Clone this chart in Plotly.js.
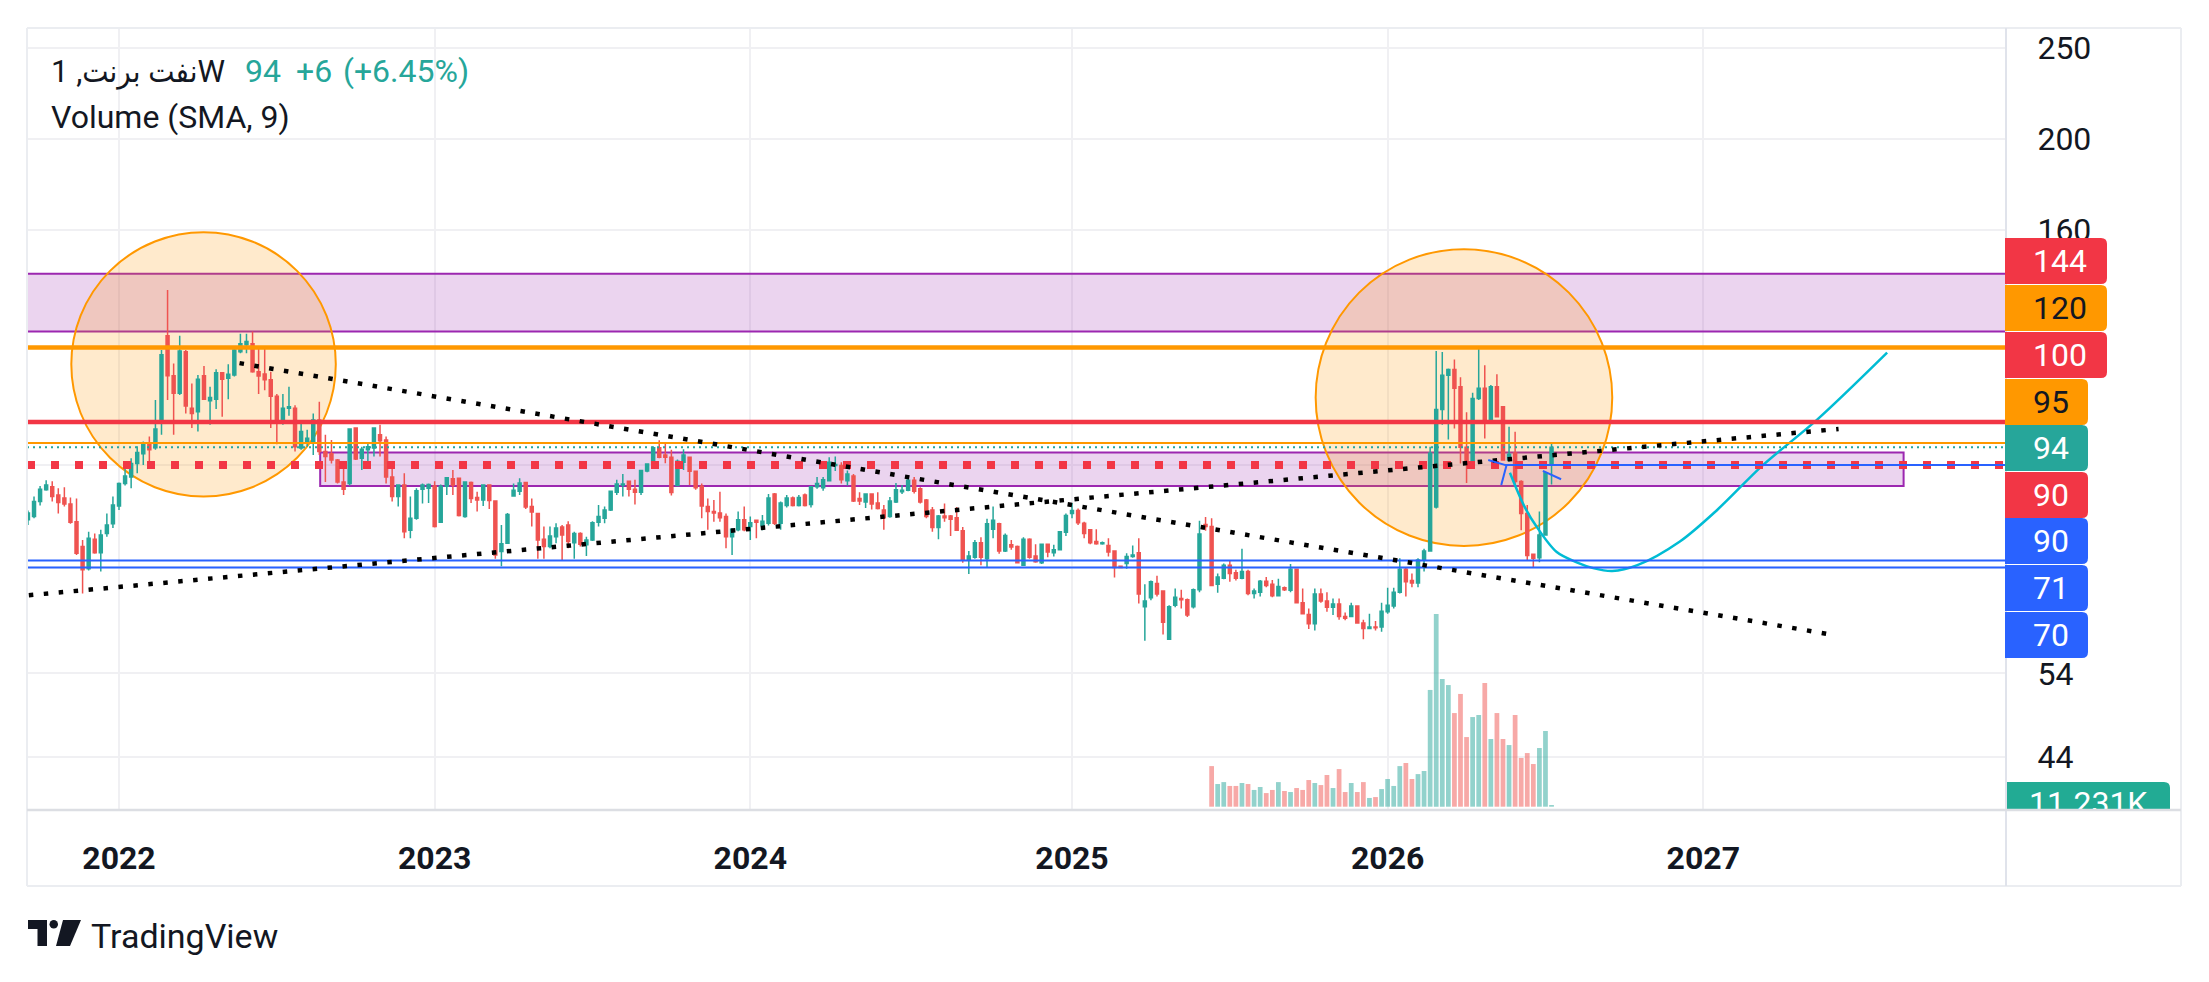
<!DOCTYPE html>
<html>
<head>
<meta charset="utf-8">
<script src="https://cdn.plot.ly/plotly-3.0.1.min.js"></script>
<style>
html,body{margin:0;padding:0;background:#ffffff;}
#chart{width:2209px;height:982px;}
</style>
</head>
<body>
<div id="chart"></div>
<script>
// ---------------- DATA (weekly Brent candles) ----------------
const firstWeekUTC = Date.UTC(2021, 8, 20); // first weekly bar shown

const opens = [
 // 2021-09 .. 2022-12
 78.7,79.3,82.3,84.7,85.3,83.6,83.0,81.8,78.3,73.7,69.8,75.0,72.6,76.1,77.9,81.4,86.0,87.4,90.3,92.5,94.8,93.9,100.5,123.5,112.0,107.3,118.8,103.4,102.5,112.0,105.3,105.7,112.8,111.3,112.2,118.8,120.8,121.1,113.1,112.5,110.9,106.5,100.3,103.4,103.4,93.8,95.3,95.3,100.5,93.0,92.5,91.1,86.3,86.0,98.5,91.5,93.4,93.8,96.9,95.7,87.4,83.3,85.7,76.7,79.0,84.8,
 // 2023
 85.0,85.5,78.2,85.4,87.0,87.1,79.3,86.2,83.1,82.6,85.7,82.4,72.8,74.3,83.4,84.4,86.2,81.3,79.9,75.0,73.7,75.5,77.3,77.7,74.4,76.1,74.0,74.9,78.2,79.0,80.6,84.2,85.7,86.5,84.8,84.2,88.7,90.2,93.9,92.2,91.7,85.6,90.6,91.7,88.6,85.4,81.3,80.3,80.0,79.3,75.5,76.8,78.7,77.4,78.6,77.6,78.0,83.8,78.0,81.5,83.0,81.5,83.6,81.7,85.3,
 // 2024 - mid 2025
 85.1,86.6,89.9,89.9,86.6,87.6,82.9,82.2,83.8,82.0,80.6,79.3,82.2,84.3,84.6,86.7,84.9,82.6,80.6,77.2,79.4,79.4,79.1,76.6,71.3,71.8,74.4,71.5,76.9,77.9,72.9,74.0,73.7,70.4,75.0,72.0,70.8,74.1,72.6,73.1,76.3,79.9,80.5,78.0,76.8,74.6,74.2,73.9,72.9,70.2,70.7,71.9,72.6,63.6,65.0,67.3,66.1,58.7,63.8,64.9,64.7,63.6,66.3,77.8,
 // mid 2025 - 2026
 77.4,67.2,68.2,70.4,69.1,68.2,69.3,65.7,65.9,67.7,67.2,65.3,66.6,66.2,69.7,64.2,62.4,61.0,65.6,64.5,63.5,64.0,62.1,62.1,63.7,61.1,60.3,60.5,60.5,62.8,63.7,65.9,69.7,67.8,67.4,71.3,72.9,81.2,103.1,112.1,113.7,109.0,94.0,91.0,105.9,108.6,100.0,109.0,103.8,91.1,92.7,86.4,79.9,72.3,71.7,75.8,90.3
];
const highs = [
 80.5,83.3,85.5,86.7,86.5,85.0,85.2,83.1,82.9,74.9,76.4,76.1,76.8,79.9,83.3,86.2,89.6,91.5,94.2,95.3,96.5,105.5,119.3,138.2,115.4,123.5,119.3,109.9,112.2,114.7,109.0,113.8,113.0,115.2,120.3,124.1,124.1,124.8,120.1,120.1,113.1,107.1,107.1,109.0,104.2,100.1,98.1,102.1,105.1,96.9,95.7,91.3,89.9,98.4,98.6,94.1,94.9,98.6,99.3,96.5,89.9,85.8,88.2,83.3,85.0,86.0,
 86.0,86.5,85.8,87.4,88.9,87.3,86.5,86.4,84.3,85.8,85.8,82.5,77.7,80.0,86.0,87.1,86.3,82.9,80.0,77.4,77.4,78.0,77.7,78.4,76.4,76.3,75.5,78.4,81.6,81.3,84.5,86.8,88.0,86.6,86.8,88.9,90.3,94.2,95.6,95.2,93.4,91.2,93.5,91.8,88.7,86.0,82.9,82.6,84.3,79.9,77.1,80.3,81.3,79.3,78.7,79.6,83.8,84.0,82.3,83.6,83.3,83.6,83.9,85.4,87.4,
 87.4,91.7,91.9,90.6,88.8,88.0,84.2,83.8,83.9,84.2,81.6,83.2,86.1,85.7,87.8,87.4,85.2,82.8,81.2,79.6,81.9,79.6,81.2,77.3,72.9,74.9,75.4,78.9,81.3,78.1,76.1,74.9,73.9,75.4,75.2,74.1,74.2,74.2,74.0,76.5,79.9,82.0,80.9,78.3,76.9,76.9,74.6,75.2,73.0,70.2,72.5,73.9,75.2,67.2,67.8,68.6,66.2,63.8,66.5,66.3,64.9,66.5,78.5,79.2,
 79.0,69.0,70.7,71.2,69.6,73.3,69.6,66.5,67.9,68.4,67.9,68.1,66.8,70.6,69.8,66.5,63.3,66.5,66.5,65.9,64.9,64.9,62.7,64.2,63.8,61.6,62.5,61.4,64.2,66.6,66.6,71.6,69.9,69.0,71.6,73.3,94.1,119.0,118.7,114.0,116.5,111.6,102.4,107.4,120.0,114.9,109.5,112.4,104.0,98.8,97.6,86.7,81.6,72.4,80.3,88.5,94.9
];
const lows = [
 77.7,79.0,81.5,84.5,82.3,79.9,81.3,77.9,72.2,65.7,69.5,72.4,69.3,75.5,77.1,80.6,85.6,85.0,88.2,90.0,90.7,93.4,96.9,105.5,96.9,106.8,102.1,98.5,97.7,105.5,99.3,103.2,101.3,105.7,111.8,118.3,118.3,112.8,107.1,108.1,98.5,94.7,99.3,101.5,93.0,93.4,94.1,92.2,92.2,86.3,90.3,86.0,83.6,85.6,91.1,88.9,89.9,91.9,91.9,86.0,82.3,81.3,75.2,75.2,78.7,81.9,
 82.0,77.2,78.1,83.6,83.6,79.3,79.1,82.0,80.3,81.4,80.8,71.5,70.2,74.2,83.4,83.6,80.8,77.4,71.5,71.5,73.4,74.3,71.3,73.4,71.5,73.7,72.0,74.7,77.4,78.0,80.4,83.6,83.3,83.3,81.7,83.6,88.4,90.2,91.5,90.4,83.5,85.4,88.9,85.7,84.7,79.0,76.8,78.3,78.3,73.4,72.2,76.5,76.5,74.9,75.2,76.7,77.6,77.7,76.8,81.1,81.3,81.3,81.3,81.1,84.9,
 84.5,86.4,88.7,86.0,85.6,82.2,81.6,81.0,80.7,80.7,76.8,79.1,82.0,83.8,84.4,83.9,81.9,79.0,76.4,75.0,78.3,75.6,76.6,70.8,68.9,71.5,70.4,70.0,75.2,72.4,72.7,73.1,70.7,70.4,71.5,70.8,70.6,71.8,71.9,73.0,75.6,79.0,77.7,75.2,74.1,74.0,74.0,71.9,68.3,69.9,69.8,71.7,64.1,58.5,64.6,65.2,59.4,58.6,63.5,63.3,62.0,63.3,65.9,76.6,
 66.9,65.8,68.0,67.6,67.8,68.0,65.4,64.9,65.2,66.7,65.1,65.2,66.1,65.9,64.1,62.4,60.2,60.0,64.2,62.8,62.3,61.6,61.5,62.0,61.0,58.7,60.2,60.0,59.8,62.5,63.3,65.7,65.2,66.7,66.7,69.3,72.8,80.9,99.3,95.8,98.4,90.3,86.1,90.8,105.5,96.0,99.8,101.3,91.0,90.7,85.7,76.7,71.3,70.0,70.9,75.7,85.8
];
const closes = [
 80.0,82.3,84.8,85.7,83.3,82.1,81.8,78.2,72.5,69.6,75.2,72.6,75.8,77.7,81.6,86.0,87.6,90.3,92.8,94.8,93.4,98.3,117.9,112.0,107.3,119.0,104.0,102.1,111.0,105.7,106.2,112.8,111.0,112.4,119.3,121.1,121.8,113.1,111.9,110.9,106.5,100.5,103.4,103.8,94.1,97.7,96.1,100.5,93.0,91.9,91.1,86.3,84.8,98.3,91.3,93.5,94.1,98.5,95.5,87.4,83.3,85.7,76.4,79.0,84.5,85.7,
 85.8,77.4,85.4,87.2,85.7,79.5,86.3,82.9,82.6,85.7,82.5,72.2,74.2,79.7,84.6,86.1,81.2,80.2,74.9,73.7,75.6,77.1,75.8,74.6,76.1,74.1,74.9,78.1,79.3,80.6,84.4,85.9,85.9,84.8,84.2,88.8,90.2,93.9,91.7,91.7,84.1,90.8,92.2,88.6,85.1,81.4,80.3,80.0,79.1,75.5,76.9,78.7,76.8,78.1,78.2,78.4,83.0,78.0,82.0,83.0,81.5,83.1,81.5,85.3,86.0,
 86.8,90.6,90.1,86.8,88.0,82.4,82.4,83.8,81.8,80.9,79.1,82.4,84.7,84.6,86.7,84.4,82.2,79.3,77.2,79.4,79.1,78.8,76.7,71.3,72.0,74.4,71.8,77.9,78.6,72.9,75.7,73.6,70.8,75.0,71.8,71.0,74.1,72.7,73.1,76.4,79.5,80.5,78.1,76.1,74.4,74.2,74.4,72.7,70.0,70.0,71.9,72.2,65.6,64.5,67.6,65.6,61.2,63.6,65.1,64.7,62.3,66.3,76.0,77.4,
 67.0,68.4,70.4,69.0,68.2,69.3,65.7,66.1,67.7,67.0,65.3,66.8,66.3,69.7,64.2,62.5,61.0,65.6,64.5,63.5,64.0,62.1,61.8,63.7,61.1,60.3,60.5,60.4,62.9,63.8,65.9,69.7,67.6,67.4,71.3,72.9,92.6,103.1,112.1,113.7,108.6,94.0,91.0,105.9,108.6,100.0,109.0,101.3,91.1,92.4,86.4,79.9,72.1,71.6,75.8,88.3,94.0
];
// weekly volume in thousands, starting at bar index volumeStartIndex
const volumeStartIndex = 195;
const volumes = [274,153,166,140,140,160,153,113,133,92,113,166,106,99,126,113,180,160,146,214,126,254,99,160,99,166,59,65,119,187,140,274,295,187,220,241,788,1300,862,821,632,761,470,605,619,835,457,632,457,416,619,329,362,288,396,511,11.231];

// axis ticks
const yearTickDates = ['2022-01-03','2023-01-02','2024-01-01','2025-01-06','2026-01-05','2027-01-04'];
const yearTickLabels = ['2022','2023','2024','2025','2026','2027'];
const priceTickValues = [44,54,160,200,250];
const hiddenGridValues = [70,90,120];

// legend texts
const symbolTitle = 'نفت برنت, 1W';
const lastPriceText = '94';
const changeText = '+6';
const changePctText = '(+6.45%)';
const volumeTitle = 'Volume (SMA, 9)';
const lastVolumeText = '11.231K';

// price-scale tags
const tagTexts = ['144','120','100','95','94','90','90','71','70'];

// drawing levels (prices)
const upperBand = [124.8, 143.8];
const lowerBand = [85.5, 92.8];
const level120 = 120, level100 = 100, level95 = 95, level94 = 94, level90 = 90, level71 = 71.2, level70 = 70.0;
const circleA = {d: ['2021-11-09','2022-09-10'], p: [83.3,159.2]};
const circleB = {d: ['2025-10-14','2026-09-21'], p: [73.8,152.7]};
const trendDown = {d: ['2022-05-22','2027-06-05'], p: [115.5,59.3]};
const trendUp = {d: ['2021-09-21','2027-06-09'], p: [65.4,98.3]};
const lowerBandDates = ['2022-08-23','2027-08-23'];
const blueRayStart = '2026-05-20';
const curveDates = ['2026-05-26','2026-06-12','2026-06-26','2026-07-19','2026-08-11','2026-08-30','2026-09-21','2026-10-20','2026-12-08','2027-01-20','2027-03-14','2027-05-15','2027-08-04'];
const curvePrices = [88.3,81.2,77.3,72.7,70.9,69.9,69.4,70.4,74.6,80.6,90.0,100.5,118.5];
const arrowA = {d: ['2026-05-01','2026-05-22','2026-05-16'], p: [91.1,89.9,85.7]};
const arrowB = {d: ['2026-07-03','2026-07-24'], p: [88.7,86.9]};

// ---------------- BUILD ----------------
const dates = opens.map((_, i) => new Date(firstWeekUTC + i * 7 * 86400000).toISOString().slice(0, 10));
const UP = '#26A69A', DOWN = '#EF5350';
const volDates = volumes.map((_, i) => dates[volumeStartIndex + i]);
const volColors = volumes.map((_, i) => {
  const k = volumeStartIndex + i;
  return closes[k] >= opens[k] ? 'rgba(38,166,154,0.5)' : 'rgba(239,83,80,0.5)';
});

// pixel geometry helpers
const L = 27, R = 2181, T = 28, B = 810, AX = 2006;
const PW = R - L, PH = B - T;
const px = x => (x - L) / PW;
const py = y => (B - y) / PH;
const xDomEnd = px(AX);
const ax3x = x => (x - AX) / (R - AX);
const FONT = 'Roboto, "DejaVu Sans", sans-serif';
const TITLEFONT = 'Roboto, "DejaVu Sans Condensed", "DejaVu Sans", sans-serif';
const INK = '#131722';

const traces = [];
traces.push({
  type: 'bar', x: volDates, y: volumes, xaxis: 'x', yaxis: 'y2',
  marker: {color: volColors, line: {width: 0}}, hoverinfo: 'skip', showlegend: false
});
traces.push({
  type: 'candlestick', x: dates, open: opens, high: highs, low: lows, close: closes,
  xaxis: 'x', yaxis: 'y', whiskerwidth: 0,
  increasing: {line: {color: UP, width: 1.5}, fillcolor: UP},
  decreasing: {line: {color: DOWN, width: 1.5}, fillcolor: DOWN},
  hoverinfo: 'skip', showlegend: false
});
traces.push({
  type: 'scatter', mode: 'lines', x: curveDates, y: curvePrices, xaxis: 'x', yaxis: 'y',
  line: {color: '#00BCD4', width: 2.5, shape: 'spline', smoothing: 0.9},
  hoverinfo: 'skip', showlegend: false
});
// clipped last-volume label on the price-scale column
traces.push({
  type: 'scatter', mode: 'text', x: [ax3x(2029)], y: [(B - 806) / PH], xaxis: 'x3', yaxis: 'y3',
  text: [lastVolumeText], textposition: 'middle right', cliponaxis: true,
  textfont: {family: FONT, size: 32, color: '#ffffff'}, hoverinfo: 'skip', showlegend: false
});

const shapes = [];
hiddenGridValues.forEach(v => shapes.push({type: 'line', xref: 'paper', yref: 'y', x0: 0, x1: xDomEnd, y0: v, y1: v, layer: 'below', line: {color: '#F0F0F3', width: 2}}));
shapes.push({type: 'rect', xref: 'x', yref: 'y', x0: '2020-06-01', x1: '2028-12-31', y0: upperBand[0], y1: upperBand[1], layer: 'between', fillcolor: 'rgba(156,39,176,0.2)', line: {color: '#9C27B0', width: 2}});
shapes.push({type: 'rect', xref: 'x', yref: 'y', x0: lowerBandDates[0], x1: lowerBandDates[1], y0: lowerBand[0], y1: lowerBand[1], layer: 'between', fillcolor: 'rgba(156,39,176,0.2)', line: {color: '#9C27B0', width: 2}});
[circleA, circleB].forEach(c => shapes.push({type: 'circle', xref: 'x', yref: 'y', x0: c.d[0], x1: c.d[1], y0: c.p[0], y1: c.p[1], layer: 'between', fillcolor: 'rgba(255,152,0,0.2)', line: {color: '#FF9800', width: 2}}));
function hline(v, color, width, dash) {
  shapes.push({type: 'line', xref: 'paper', yref: 'y', x0: 0, x1: xDomEnd, y0: v, y1: v, layer: 'above', line: {color: color, width: width, dash: dash || 'solid'}});
}
hline(level120, '#FF9800', 4.5);
hline(level100, '#F23645', 4.5);
hline(level95, '#FF9800', 2);
hline(level94, '#26A69A', 2, '2px,4px');
hline(level90, '#F23645', 8, '8px,16px');
hline(level71, '#2962FF', 2);
hline(level70, '#2962FF', 2);
shapes.push({type: 'line', xref: 'x', yref: 'y', x0: blueRayStart, x1: '2028-12-31', y0: level90, y1: level90, layer: 'above', line: {color: '#2962FF', width: 2}});
[trendDown, trendUp].forEach(t => shapes.push({type: 'line', xref: 'x', yref: 'y', x0: t.d[0], x1: t.d[1], y0: t.p[0], y1: t.p[1], layer: 'above', line: {color: '#000000', width: 4.5, dash: '4.5px,10.5px'}}));
shapes.push({type: 'line', xref: 'x', yref: 'y', x0: arrowA.d[0], x1: arrowA.d[1], y0: arrowA.p[0], y1: arrowA.p[1], layer: 'above', line: {color: '#2962FF', width: 2}});
shapes.push({type: 'line', xref: 'x', yref: 'y', x0: arrowA.d[2], x1: arrowA.d[1], y0: arrowA.p[2], y1: arrowA.p[1], layer: 'above', line: {color: '#2962FF', width: 2}});
shapes.push({type: 'line', xref: 'x', yref: 'y', x0: arrowB.d[0], x1: arrowB.d[1], y0: arrowB.p[0], y1: arrowB.p[1], layer: 'above', line: {color: '#2962FF', width: 2}});

function pline(x0, y0, x1, y1, color, width) {
  shapes.push({type: 'line', xref: 'paper', yref: 'paper', x0: px(x0), y0: py(y0), x1: px(x1), y1: py(y1), layer: 'above', line: {color: color, width: width}});
}
pline(L, T, R, T, '#EBEDF1', 2);
pline(L, T, L, 886, '#EBEDF1', 2);
pline(R, T, R, 886, '#EBEDF1', 2);
pline(L, 886, R, 886, '#EBEDF1', 2);
pline(AX, T, AX, 886, '#E0E3EB', 2);
pline(L, B, R, B, '#DCDEE3', 2.5);

const tagFill = ['#F23645','#FF9800','#F23645','#FF9800','#26A69A','#F23645','#2962FF','#2962FF','#2962FF'];
const tagInk = ['#ffffff',INK,'#ffffff',INK,'#ffffff','#ffffff','#ffffff','#ffffff','#ffffff'];
const tagCenters = [261,308,355,402,448,495,541,588,635];
const tagRight = [2107,2107,2107,2088,2088,2088,2088,2088,2088];
const tagH = 46, rad = 6;
function tagPath(x0, x1, y0, y1, r, fx, fy) {
  return 'M' + fx(x0) + ',' + fy(y0) + ' L' + fx(x1 - r) + ',' + fy(y0) + ' Q' + fx(x1) + ',' + fy(y0) + ' ' + fx(x1) + ',' + fy(y0 + r) +
    ' L' + fx(x1) + ',' + fy(y1 - r) + ' Q' + fx(x1) + ',' + fy(y1) + ' ' + fx(x1 - r) + ',' + fy(y1) + ' L' + fx(x0) + ',' + fy(y1) + ' Z';
}
const annotations = [];
tagTexts.forEach((t, i) => {
  const y0 = tagCenters[i] - tagH / 2, y1 = tagCenters[i] + tagH / 2;
  shapes.push({type: 'path', xref: 'paper', yref: 'paper', layer: 'above', path: tagPath(2005, tagRight[i], y0, y1, rad, px, py), fillcolor: tagFill[i], line: {width: 0}});
  annotations.push({xref: 'paper', yref: 'paper', x: px(2031), y: py(tagCenters[i]), xanchor: 'left', yanchor: 'middle', showarrow: false, text: t, font: {family: FONT, size: 32, color: tagInk[i]}});
});
shapes.push({type: 'path', xref: 'x3', yref: 'y3', layer: 'between', path: tagPath(2005, 2170, 782, 829, rad, ax3x, y => (B - y) / PH), fillcolor: '#22AB94', line: {width: 0}});

function label(x, y, text, color, size, family) {
  annotations.push({xref: 'paper', yref: 'paper', x: px(x), y: py(y), xanchor: 'left', yanchor: 'middle', showarrow: false, text: text, font: {family: family || FONT, size: size || 32, color: color}});
}
label(49, 71, symbolTitle, INK, 31, TITLEFONT);
label(243, 71, lastPriceText, UP);
label(294, 71, changeText, UP);
label(341, 71, changePctText, UP);
label(49, 117, volumeTitle, INK);
label(89, 936, 'TradingView', INK, 34);
shapes.push({type: 'path', xref: 'paper', yref: 'paper', layer: 'above', fillcolor: INK, line: {width: 0},
  path: 'M' + px(28) + ',' + py(920) + ' L' + px(47) + ',' + py(920) + ' L' + px(47) + ',' + py(946) + ' L' + px(37.5) + ',' + py(946) + ' L' + px(37.5) + ',' + py(929) + ' L' + px(28) + ',' + py(929) + ' Z'});
shapes.push({type: 'circle', xref: 'paper', yref: 'paper', layer: 'above', fillcolor: INK, line: {width: 0}, x0: px(49.5), x1: px(58), y0: py(920), y1: py(928.5)});
shapes.push({type: 'path', xref: 'paper', yref: 'paper', layer: 'above', fillcolor: INK, line: {width: 0},
  path: 'M' + px(63) + ',' + py(920) + ' L' + px(81) + ',' + py(920) + ' L' + px(70) + ',' + py(946) + ' L' + px(56) + ',' + py(946) + ' Z'});

const layout = {
  width: 2209, height: 982,
  margin: {l: L, r: 2209 - R, t: T, b: 982 - B, pad: 0},
  paper_bgcolor: '#ffffff', plot_bgcolor: 'rgba(0,0,0,0)',
  showlegend: false, bargap: 0.22, dragmode: false,
  xaxis: {
    type: 'date', domain: [0, xDomEnd], anchor: 'y',
    range: ['2021-09-18 21:36', '2027-12-19 02:00'],
    tickvals: yearTickDates, ticktext: yearTickLabels,
    ticks: 'outside', ticklen: 20, tickcolor: 'rgba(0,0,0,0)',
    tickfont: {family: FONT, size: 32, color: INK, weight: 700},
    showgrid: true, gridcolor: '#F0F0F3', gridwidth: 2,
    showline: false, zeroline: false, rangeslider: {visible: false}, fixedrange: true
  },
  yaxis: {
    type: 'log', side: 'right', anchor: 'x', domain: [0, 1],
    range: [1.58705, 2.41922],
    tickvals: priceTickValues, ticktext: priceTickValues.map(String),
    ticks: 'outside', ticklen: 24, tickcolor: 'rgba(0,0,0,0)',
    tickfont: {family: FONT, size: 32, color: INK},
    showgrid: true, gridcolor: '#F0F0F3', gridwidth: 2,
    showline: false, zeroline: false, fixedrange: true
  },
  yaxis2: {overlaying: 'y', anchor: 'x', range: [-22.3, 5256], visible: false, fixedrange: true},
  xaxis3: {domain: [xDomEnd, 1], anchor: 'y3', range: [0, 1], visible: false, fixedrange: true},
  yaxis3: {domain: [0, 1], anchor: 'x3', range: [0, 1], visible: false, fixedrange: true},
  shapes: shapes,
  annotations: annotations
};

Plotly.newPlot('chart', traces, layout, {displayModeBar: false, staticPlot: true});
</script>
</body>
</html>
